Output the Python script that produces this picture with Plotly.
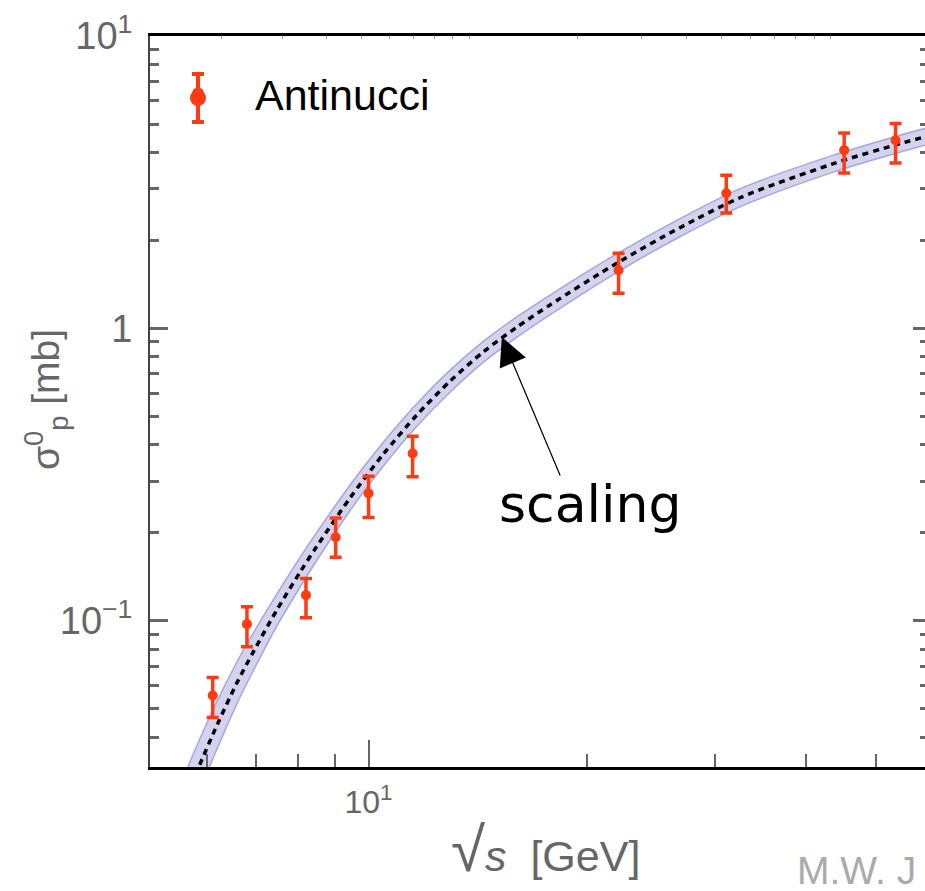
import numpy as np
import plotly.graph_objects as go

# ---------------- data ----------------
sqrt_s = [6.10, 6.80, 8.20, 9.01, 10.0, 11.5, 22.1, 31.1, 45.2, 53.2]
sigma = [0.0555, 0.0974, 0.1224, 0.1932, 0.2727, 0.3735, 1.58, 2.90, 4.07, 4.40]
sigma_top = [0.0640, 0.1117, 0.1396, 0.2245, 0.3123, 0.4281, 1.807, 3.34, 4.66, 5.02]
sigma_bottom = [0.0467, 0.0815, 0.1024, 0.1651, 0.2257, 0.3107, 1.319, 2.48, 3.40, 3.68]

scaling_x = [5.55, 5.80, 6.18, 6.58, 6.93, 7.47, 8.05, 8.49, 9.43, 10.47, 11.65,
             12.95, 14.39, 16.00, 17.78, 22.06, 26.85, 32.48, 43.68, 53.96, 60.0]
scaling_y = [0.02338, 0.0305, 0.04383, 0.0610, 0.07785, 0.1085, 0.1468, 0.1800, 0.2633, 0.3703,
             0.5050, 0.6599, 0.8312, 1.0095, 1.2030, 1.681, 2.210, 2.798, 3.660, 4.284, 4.601]
band_hi = [0.0289, 0.0374, 0.0529, 0.0720, 0.0904, 0.1231, 0.1652, 0.2011, 0.2915, 0.4070,
           0.5525, 0.7199, 0.9027, 1.0943, 1.3004, 1.809, 2.374, 3.005, 3.913, 4.580, 4.918]
band_lo = [0.0189, 0.0249, 0.0363, 0.0517, 0.0671, 0.0956, 0.1305, 0.1611, 0.2379, 0.3369,
           0.4616, 0.6049, 0.7654, 0.9313, 1.1129, 1.562, 2.058, 2.605, 3.424, 4.007, 4.304]

x_major = [10]
x_major_text = ["10<sup>1</sup>"]
x_minor = [6, 7, 8, 9, 20, 30, 40, 50]
y_major = [0.1, 1, 10]
y_major_text = ["10<sup>\u22121</sup>", "1", "10<sup>1</sup>"]
y_minor = [0.04, 0.05, 0.06, 0.07, 0.08, 0.09,
           0.2, 0.3, 0.4, 0.5, 0.6, 0.7, 0.8, 0.9,
           2, 3, 4, 5, 6, 7, 8, 9]
p_lab_ticks = [20, 30, 40, 50, 60, 70, 80, 90, 100, 200, 300, 400, 500, 600, 700, 800, 900, 1000]

arrow_tip = (15.26, 0.935)

# ---------------- figure ----------------
X_RANGE = [np.log10(5), np.log10(5) + 775 / 726]
Y_RANGE = [-1.5, 1.0]
FONT = "Liberation Sans, Arial, Helvetica, sans-serif"
GRAY = "#666666"
RED = "#ff3b14"

fig = go.Figure()

band_edge = "rgba(140,140,205,0.7)"
fig.add_trace(go.Scatter(x=scaling_x, y=band_lo, mode="lines",
                         line=dict(color=band_edge, width=1.5, shape="spline", smoothing=0.8),
                         showlegend=False, hoverinfo="skip"))
fig.add_trace(go.Scatter(x=scaling_x, y=band_hi, mode="lines",
                         line=dict(color=band_edge, width=1.5, shape="spline", smoothing=0.8),
                         fill="tonexty", fillcolor="rgba(192,192,232,0.7)", showlegend=False, hoverinfo="skip"))
fig.add_trace(go.Scatter(x=scaling_x, y=scaling_y, mode="lines",
                         line=dict(color="black", width=3.5, dash="6px,5px", shape="spline", smoothing=0.8),
                         showlegend=False, hoverinfo="skip"))

err_plus = [t - v for t, v in zip(sigma_top, sigma)]
err_minus = [v - b for v, b in zip(sigma, sigma_bottom)]
fig.add_trace(go.Scatter(
    x=sqrt_s, y=sigma, mode="markers", name="Antinucci",
    marker=dict(color=RED, size=10),
    error_y=dict(type="data", symmetric=False, array=err_plus, arrayminus=err_minus,
                 color=RED, thickness=3.5, width=6),
))

# top axis ticks (lab momentum) - just small ticks
m = 0.938
top_tickvals = [float(np.sqrt(2 * m * m + 2 * m * np.sqrt(p * p + m * m))) for p in p_lab_ticks]
fig.add_trace(go.Scatter(x=[None], y=[None], xaxis="x2", yaxis="y2", showlegend=False, hoverinfo="skip"))

# legend geometry (px)
LEG_ITEMW = 104
LEG_LEFT = 141
LEG_SYM_X = LEG_LEFT + 5 + LEG_ITEMW / 2  # where plotly centres the legend symbol
LEG_MID_Y = 98

fig.update_layout(
    width=925, height=891,
    margin=dict(l=150, r=0, t=36, b=124),
    paper_bgcolor="white", plot_bgcolor="white",
    showlegend=True,
    legend=dict(x=(LEG_LEFT - 150) / 775, y=(767 - (LEG_MID_Y - 39)) / 731, xanchor="left", yanchor="top",
                font=dict(family=FONT, size=43, color="black"),
                bgcolor="rgba(0,0,0,0)", itemwidth=LEG_ITEMW, itemsizing="constant"),
    xaxis=dict(
        type="log", range=X_RANGE, showgrid=False, zeroline=False,
        showline=True, linecolor="black", linewidth=3,
        tickmode="array", tickvals=x_major, ticktext=x_major_text,
        ticks="inside", ticklen=27, tickwidth=2, tickcolor=GRAY,
        tickfont=dict(family=FONT, size=32, color=GRAY),
        ticklabelstandoff=5,
        minor=dict(tickmode="array", tickvals=x_minor, ticks="inside", ticklen=13, tickwidth=2,
                   tickcolor=GRAY, showgrid=False),
    ),
    yaxis=dict(
        type="log", range=Y_RANGE, showgrid=False, zeroline=False,
        showline=True, linecolor="#444444", linewidth=2,
        tickmode="array", tickvals=y_major, ticktext=y_major_text,
        ticks="inside", ticklen=18, tickwidth=2.5, tickcolor=GRAY,
        tickfont=dict(family=FONT, size=38, color=GRAY),
        ticklabelstandoff=8,
        minor=dict(tickmode="array", tickvals=y_minor, ticks="inside", ticklen=9, tickwidth=2.5,
                   tickcolor=GRAY, showgrid=False),
    ),
    xaxis2=dict(
        type="log", range=X_RANGE, overlaying="x", side="top", anchor="y2",
        showgrid=False, zeroline=False, showline=True, linecolor="black", linewidth=3,
        tickmode="array", tickvals=top_tickvals, ticks="inside", ticklen=3, tickwidth=1,
        tickcolor="#999999", showticklabels=False,
    ),
    yaxis2=dict(
        type="log", range=Y_RANGE, overlaying="y", side="right", anchor="x2",
        showgrid=False, zeroline=False, showline=False,
        tickmode="array", tickvals=y_major, ticks="inside", ticklen=12, tickwidth=2.5,
        tickcolor=GRAY, showticklabels=False,
        minor=dict(tickmode="array", tickvals=y_minor, ticks="inside", ticklen=5, tickwidth=2.5,
                   tickcolor=GRAY, showgrid=False),
    ),
)

# legend key decoration: error-bar glyph around the legend dot
def px2paper(px, py):
    return (px - 150) / 775, (767 - py) / 731

bar_half = 24
cap_half = 6
dot_r = 8
x0, y0 = px2paper(LEG_SYM_X, LEG_MID_Y - bar_half)
x1, y1 = px2paper(LEG_SYM_X, LEG_MID_Y + bar_half)
cl, _ = px2paper(LEG_SYM_X - cap_half, 0)
cr, _ = px2paper(LEG_SYM_X + cap_half, 0)
dl, dt = px2paper(LEG_SYM_X - dot_r, LEG_MID_Y - dot_r)
dr, db = px2paper(LEG_SYM_X + dot_r, LEG_MID_Y + dot_r)
shapes = [
    dict(type="line", xref="paper", yref="paper", x0=x0, x1=x1, y0=y0, y1=y1,
         line=dict(color=RED, width=4)),
    dict(type="line", xref="paper", yref="paper", x0=cl, x1=cr, y0=y0, y1=y0,
         line=dict(color=RED, width=4)),
    dict(type="line", xref="paper", yref="paper", x0=cl, x1=cr, y0=y1, y1=y1,
         line=dict(color=RED, width=4)),
    dict(type="circle", xref="paper", yref="paper", x0=dl, x1=dr, y0=db, y1=dt,
         fillcolor=RED, line=dict(color=RED, width=0)),
]
fig.update_layout(shapes=shapes)

annotations = [
    # arrow pointing at the curve
    dict(x=np.log10(arrow_tip[0]), y=np.log10(arrow_tip[1]), xref="x", yref="y",
         text="", showarrow=True, ax=59, ay=140, arrowhead=2, arrowsize=4.7, arrowwidth=1.2,
         arrowcolor="black", standoff=0, startstandoff=0),
    dict(x=(497 - 150) / 775, y=(767 - 504) / 731, xref="paper", yref="paper",
         text="scaling", showarrow=False, xanchor="left", yanchor="middle",
         font=dict(family="DejaVu Sans", size=52, color="black")),
    dict(x=(46 - 150) / 775, y=(767 - 400) / 731, xref="paper", yref="paper",
         text="\u03c3<sup>0</sup><sub>p</sub> [mb]", textangle=-90, showarrow=False,
         xanchor="center", yanchor="middle",
         font=dict(family=FONT, size=39, color=GRAY)),
    dict(x=(545 - 150) / 775, y=(767 - 850) / 731, xref="paper", yref="paper",
         text="<span style='font-size:62px'>\u221a</span><i>s</i>  [GeV]", showarrow=False,
         xanchor="center", yanchor="middle",
         font=dict(family=FONT, size=43, color=GRAY)),
    dict(x=(795 - 150) / 775, y=(767 - 870) / 731, xref="paper", yref="paper",
         text="M.W. J", showarrow=False, xanchor="left", yanchor="middle", height=42,
         font=dict(family=FONT, size=39, color="#aaaaaa")),
]
fig.update_layout(annotations=annotations)

fig.write_html("out.html")
